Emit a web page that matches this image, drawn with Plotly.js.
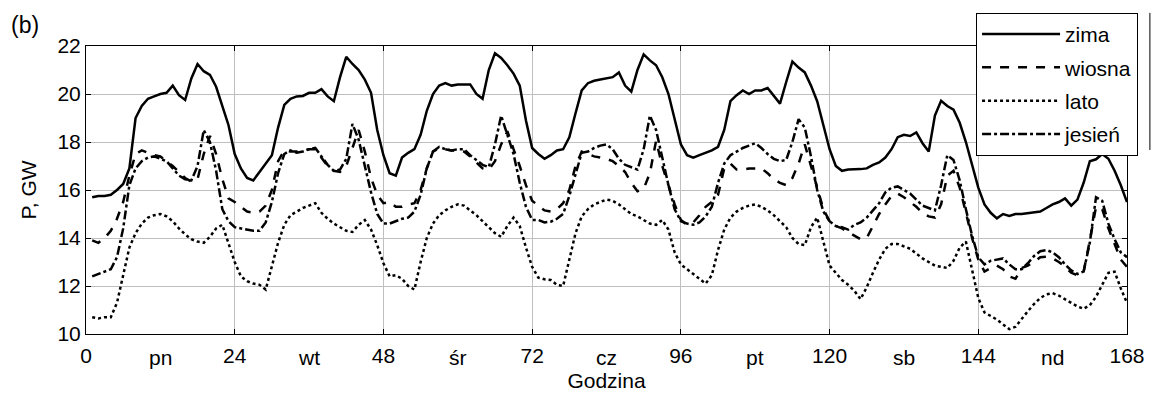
<!DOCTYPE html>
<html>
<head>
<meta charset="utf-8">
<script src="https://cdn.plot.ly/plotly-3.0.1.min.js"></script>
<style>html,body{margin:0;padding:0;background:#fff;}#chart{width:1153px;height:396px;}</style>
</head>
<body>
<div id="chart"></div>
<script>
// Hours 1..168 (one week, Monday to Sunday)
var seriesNames = ['zima', 'wiosna', 'lato', 'jesień'];
var dayLabels = ['pn', 'wt', 'śr', 'cz', 'pt', 'sb', 'nd'];
var hourTicks = [0, 24, 48, 72, 96, 120, 144, 168];
var yTicks = [10, 12, 14, 16, 18, 20, 22];

var zima = [
  15.7, 15.75, 15.75, 15.8, 16.0, 16.25, 16.9, 19.0, 19.5, 19.8, 19.9, 20.0, 20.05, 20.35, 19.95, 19.75, 20.65, 21.25, 20.95, 20.8, 20.3, 19.5, 18.7, 17.5,
  16.9, 16.5, 16.4, 16.75, 17.1, 17.45, 18.6, 19.55, 19.8, 19.9, 19.92, 20.05, 20.05, 20.2, 19.9, 19.7, 20.7, 21.55, 21.25, 21.0, 20.6, 20.05, 18.5, 17.45,
  16.7, 16.6, 17.35, 17.55, 17.7, 18.3, 19.3, 20.0, 20.35, 20.45, 20.35, 20.4, 20.4, 20.4, 20.0, 19.8, 21.0, 21.7, 21.5, 21.2, 20.85, 20.35, 18.9, 17.75,
  17.5, 17.3, 17.45, 17.65, 17.7, 18.2, 19.2, 20.15, 20.45, 20.55, 20.6, 20.65, 20.7, 20.9, 20.35, 20.1, 21.0, 21.65, 21.4, 21.2, 20.7, 20.0, 19.0, 17.9,
  17.45, 17.35, 17.45, 17.55, 17.65, 17.8, 18.5, 19.7, 19.95, 20.15, 20.0, 20.15, 20.15, 20.25, 19.9, 19.6, 20.5, 21.35, 21.1, 20.9, 20.35, 19.7, 18.7, 17.7,
  17.0, 16.8, 16.85, 16.85, 16.87, 16.9, 17.05, 17.15, 17.35, 17.7, 18.2, 18.3, 18.25, 18.4, 17.95, 17.6, 19.1, 19.72, 19.5, 19.35, 18.8, 18.0, 17.0, 16.1,
  15.4, 15.05, 14.82, 15.0, 14.92, 15.0, 15.0, 15.03, 15.05, 15.1, 15.25, 15.4, 15.5, 15.65, 15.35, 15.6, 16.3, 17.2, 17.28, 17.5, 17.3, 16.8, 16.2, 15.5
];
var wiosna = [
  13.9, 13.8, 14.0, 14.3, 14.8, 15.5, 16.6, 17.5, 17.65, 17.55, 17.45, 17.4, 17.2, 17.0, 16.75, 16.5, 16.35, 16.45, 17.5, 18.25, 17.5, 16.45, 15.65, 15.5,
  15.3, 15.1, 15.05, 15.1, 15.35, 16.0, 17.2, 17.65, 17.6, 17.6, 17.65, 17.7, 17.7, 17.35, 17.0, 16.8, 16.75, 17.0, 17.8, 18.5, 17.6, 16.5, 15.8, 15.45,
  15.5, 15.3, 15.3, 15.4, 15.45, 16.0, 16.9, 17.6, 17.75, 17.7, 17.65, 17.65, 17.6, 17.4, 17.15, 16.9, 16.85, 17.2, 17.9, 18.45, 17.7, 17.0, 16.2, 15.55,
  15.35, 15.15, 15.1, 15.2, 15.45, 16.0, 17.0, 17.6, 17.5, 17.4, 17.35, 17.3, 17.2, 17.0, 16.75, 16.3, 15.95, 16.05, 16.7, 18.05, 17.0, 16.2, 15.4, 14.75,
  14.55, 14.65, 14.95, 15.3, 15.5, 15.8, 16.9, 17.1, 16.85, 16.85, 16.9, 16.9, 16.9, 16.7, 16.45, 16.3, 16.2, 16.5, 17.1, 17.9, 17.0, 16.1, 15.2, 14.7,
  14.5, 14.4, 14.25, 14.1, 13.95, 14.0, 14.5, 15.0, 15.4, 15.75, 15.85, 15.7, 15.5, 15.3, 15.05, 14.9, 14.85, 15.4, 16.6, 16.8, 16.1, 15.0, 14.0, 13.1,
  12.6, 12.75, 12.85, 12.7, 12.4, 12.3, 12.75, 12.85, 13.0, 13.2, 13.22, 13.15, 13.0, 12.8, 12.55, 12.45, 12.6, 13.9, 15.3, 15.2, 14.4, 13.75, 13.1, 12.8
];
var lato = [
  10.7, 10.65, 10.7, 10.7, 11.3, 12.4, 13.6, 14.2, 14.6, 14.85, 14.95, 15.0, 14.9, 14.7, 14.4, 14.15, 13.95, 13.85, 13.8, 14.05, 14.4, 14.55, 13.8, 13.0,
  12.4, 12.2, 12.1, 12.05, 11.85, 12.8, 13.8, 14.55, 14.95, 15.1, 15.25, 15.35, 15.45, 15.05, 14.8, 14.6, 14.45, 14.3, 14.25, 14.55, 14.75, 14.35, 13.7, 12.95,
  12.4, 12.45, 12.3, 12.0, 11.85, 13.0, 14.0, 14.6, 14.95, 15.15, 15.3, 15.4, 15.35, 15.15, 14.95, 14.7, 14.45, 14.2, 14.05, 14.5, 14.85, 14.5, 13.6, 12.8,
  12.35, 12.28, 12.25, 12.05, 12.0, 13.1, 14.2, 14.9, 15.2, 15.4, 15.5, 15.6, 15.55, 15.4, 15.2, 15.0, 14.9, 14.75, 14.6, 14.55, 14.75, 14.35, 13.4, 12.9,
  12.7, 12.5, 12.3, 12.1, 12.45, 13.5, 14.35, 14.85, 15.1, 15.25, 15.35, 15.4, 15.3, 15.15, 14.95, 14.7, 14.45, 14.0, 13.75, 13.7, 14.45, 14.85, 13.9, 12.85,
  12.55, 12.25, 12.05, 11.8, 11.45, 11.95, 12.55, 13.1, 13.55, 13.75, 13.75, 13.65, 13.55, 13.35, 13.15, 13.0, 12.85, 12.8, 12.75, 13.05, 13.6, 13.85, 12.6, 11.5,
  10.9, 10.75, 10.6, 10.4, 10.2, 10.3, 10.65, 10.95, 11.25, 11.5, 11.65, 11.7, 11.6, 11.45, 11.3, 11.15, 11.05, 11.2, 11.55, 12.05, 12.55, 12.6, 11.9, 11.3
];
var jesien = [
  12.4, 12.5, 12.6, 12.7, 13.2, 14.4, 16.2, 16.9, 17.2, 17.35, 17.4, 17.3, 17.2, 16.9, 16.6, 16.45, 16.4, 17.0, 18.5, 18.0, 16.8, 15.2, 14.7, 14.45,
  14.4, 14.35, 14.3, 14.3, 14.65, 15.5, 16.7, 17.5, 17.65, 17.55, 17.6, 17.7, 17.75, 17.4, 17.05, 16.8, 16.85, 17.3, 18.75, 18.1, 17.0, 15.9, 15.0, 14.6,
  14.6, 14.7, 14.8, 14.85, 15.1, 15.8, 16.9, 17.6, 17.8, 17.7, 17.65, 17.7, 17.7, 17.45, 17.25, 17.05, 16.95, 17.9, 19.1, 18.3, 17.5, 16.3, 15.3, 14.75,
  14.75, 14.65, 14.68, 14.8, 15.0, 15.75, 16.7, 17.55, 17.6, 17.75, 17.85, 17.9, 17.7, 17.3, 17.05, 16.95, 16.85, 17.7, 19.1, 18.5, 17.3, 16.2, 15.2, 14.7,
  14.6, 14.55, 14.65, 14.9, 15.3, 16.3, 17.1, 17.45, 17.6, 17.75, 17.85, 17.95, 17.75, 17.5, 17.3, 17.2, 17.25, 18.0, 18.95, 18.6, 17.4, 16.0, 15.1, 14.7,
  14.5, 14.45, 14.35, 14.55, 14.65, 14.85, 15.15, 15.45, 15.9, 16.1, 16.15, 16.0, 15.85, 15.6, 15.35, 15.25, 15.15, 16.2, 17.45, 17.25, 16.4, 15.2, 14.1, 13.2,
  12.9, 13.05, 13.1, 13.15, 12.9, 12.7, 12.7, 12.95, 13.25, 13.45, 13.5, 13.4, 13.2, 12.9, 12.65, 12.5, 12.6, 13.8, 15.7, 15.55, 14.6, 13.95, 13.4, 13.2
];

var hours = zima.map(function (_, i) { return i + 1; });
var values = [zima, wiosna, lato, jesien];
var dashes = ['solid', 'dash', 'dot', 'dashdot'];

var traces = values.map(function (v, k) {
  return {
    x: hours, y: v, type: 'scatter', mode: 'lines',
    name: seriesNames[k], legendgroup: 'g' + k,
    line: {color: '#000', width: 2.5, dash: dashes[k]}
  };
});

var font = 'Liberation Sans, Arial, sans-serif';
var annotations = dayLabels.map(function (d, i) {
  return {text: d, x: 12 + 24 * i, xref: 'x', y: 0, yref: 'paper',
          yanchor: 'middle', yshift: -23, showarrow: false,
          font: {family: font, size: 21, color: '#000'}};
});
annotations.push({text: '(b)', x: -0.0586, xref: 'paper', y: 1.073, yref: 'paper',
  xanchor: 'center', yanchor: 'middle', showarrow: false,
  font: {family: font, size: 23, color: '#000'}});

var layout = {
  width: 1153, height: 396,
  margin: {l: 86, r: 26, t: 46, b: 62},
  paper_bgcolor: '#fff', plot_bgcolor: '#fff',
  font: {family: font, size: 21, color: '#000'},
  showlegend: true,
  legend: {x: 0.855, y: 1.115, xanchor: 'left', yanchor: 'top',
           bgcolor: '#fff', bordercolor: '#000', borderwidth: 1,
           font: {family: font, size: 21, color: '#000'},
           tracegroupgap: 3, itemwidth: 78},
  xaxis: {range: [0, 168], tickvals: hourTicks, ticktext: hourTicks.map(String),
          ticks: 'inside', ticklen: 5, tickcolor: '#000', ticklabelstandoff: 3,
          showgrid: true, gridcolor: '#bfbfbf', gridwidth: 1,
          showline: true, linecolor: '#000', linewidth: 1, mirror: 'ticks',
          zeroline: false, tickfont: {family: font, size: 21, color: '#000'},
          title: {text: 'Godzina', standoff: 7, font: {family: font, size: 21, color: '#000'}}},
  yaxis: {range: [10, 22], tickvals: yTicks,
          ticks: 'inside', ticklen: 5, tickcolor: '#000',
          showgrid: true, gridcolor: '#bfbfbf', gridwidth: 1,
          showline: true, linecolor: '#000', linewidth: 1, mirror: 'ticks',
          zeroline: false, tickfont: {family: font, size: 21, color: '#000'},
          title: {text: 'P, GW', standoff: 15, font: {family: font, size: 21, color: '#000'}}},
  annotations: annotations,
  shapes: [{type: 'line', xref: 'paper', yref: 'paper', x0: 1.022, x1: 1.022,
            y0: 0.639, y1: 1.115, line: {color: '#000', width: 1}}]
};

Plotly.newPlot('chart', traces, layout, {staticPlot: true, displayModeBar: false});
</script>
</body>
</html>
